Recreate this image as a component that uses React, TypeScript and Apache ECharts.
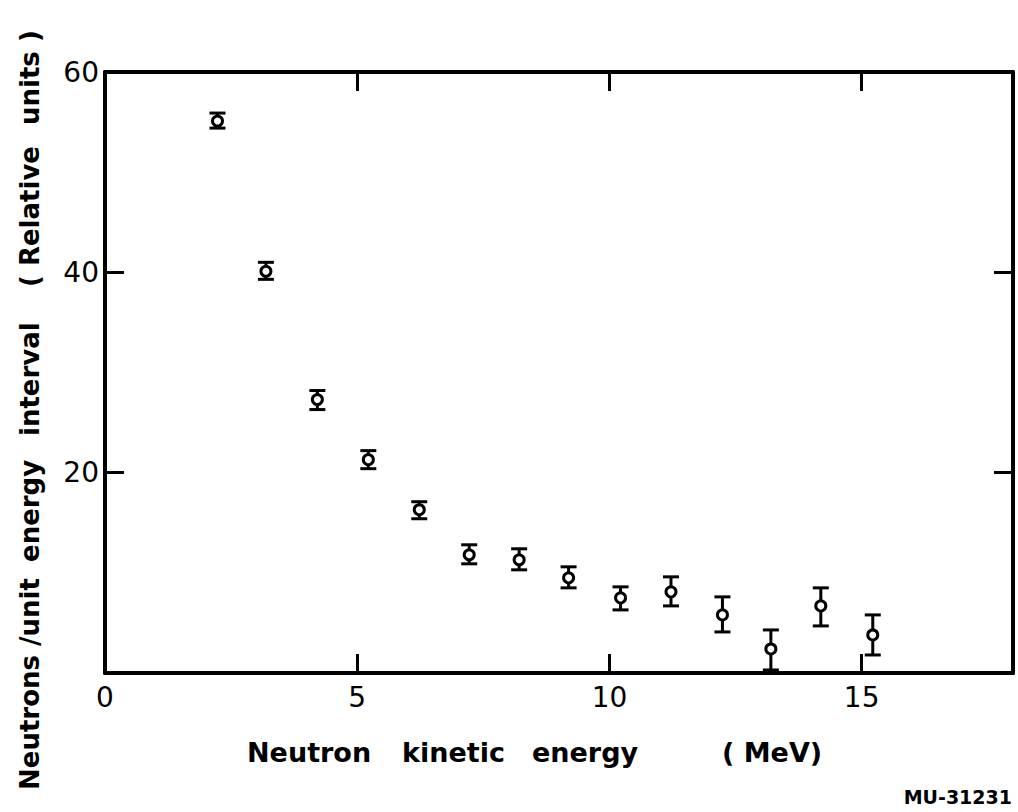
import React, { useEffect, useRef } from "react";
import * as echarts from "echarts";

// Neutron kinetic energy (MeV)
const energy = [2.23, 3.19, 4.21, 5.22, 6.23, 7.22, 8.21, 9.19, 10.22, 11.22, 12.24, 13.2, 14.19, 15.22];
// Neutrons / unit energy interval (relative units)
const intensity = [55.1, 40.1, 27.3, 21.3, 16.3, 11.8, 11.3, 9.5, 7.5, 8.1, 5.8, 2.4, 6.7, 3.8];
const errLow = [54.4, 39.3, 26.3, 20.4, 15.4, 10.9, 10.3, 8.5, 6.3, 6.7, 4.1, 0.3, 4.7, 1.8];
const errHigh = [55.9, 41.0, 28.2, 22.2, 17.1, 12.8, 12.4, 10.6, 8.6, 9.6, 7.6, 4.3, 8.5, 5.8];

const xTitleWords = ["Neutron", "kinetic", "energy", "( MeV)"];
const yTitleWords = ["Neutrons /unit", "energy", "interval", "( Relative", "units )"];
const figureCode = "MU-31231";

const FONT = "DejaVu Sans";

export default function App() {
  const ref = useRef<HTMLDivElement>(null);

  useEffect(() => {
    document.body.style.margin = "0";
    if (!ref.current) return;
    const chart = echarts.init(ref.current, undefined, { renderer: "svg" });

    const axisLine = { show: true, onZero: false, lineStyle: { color: "#000", width: 4 } };
    const axisTick = { show: true, inside: true, length: 19, lineStyle: { color: "#000", width: 3 } };
    const labelStyle = { color: "#000", fontSize: 28, fontFamily: FONT };

    const xTitleX = [247, 402, 532, 722];
    const yTitleY = [790, 562, 436, 287, 125];

    const graphics: any[] = [];
    xTitleWords.forEach((w, i) => {
      graphics.push({
        type: "text",
        x: xTitleX[i],
        y: 752,
        style: { text: w, fill: "#000", font: `bold 27px "${FONT}"`, align: "left", verticalAlign: "middle" },
      });
    });
    yTitleWords.forEach((w, i) => {
      graphics.push({
        type: "text",
        x: 30,
        y: yTitleY[i],
        rotation: Math.PI / 2,
        style: { text: w, fill: "#000", font: `bold 26px "${FONT}"`, align: "left", verticalAlign: "middle" },
      });
    });
    graphics.push({
      type: "text",
      x: 1012,
      y: 797,
      style: { text: figureCode, fill: "#000", font: `bold 19px "${FONT}"`, align: "right", verticalAlign: "middle" },
    });

    chart.setOption({
      animation: false,
      backgroundColor: "#fff",
      grid: { left: 105, top: 72, right: 5, bottom: 139, containLabel: false },
      xAxis: [
        {
          type: "value",
          position: "bottom",
          min: 0,
          max: 18,
          interval: 5,
          axisLine,
          axisTick,
          splitLine: { show: false },
          axisLabel: { ...labelStyle, margin: 10, showMaxLabel: false },
        },
        {
          type: "value",
          position: "top",
          min: 0,
          max: 18,
          interval: 5,
          axisLine,
          axisTick,
          splitLine: { show: false },
          axisLabel: { show: false },
        },
      ],
      yAxis: [
        {
          type: "value",
          position: "left",
          min: 0,
          max: 60,
          interval: 20,
          axisLine,
          axisTick,
          splitLine: { show: false },
          axisLabel: { ...labelStyle, margin: 6, showMinLabel: false },
        },
        {
          type: "value",
          position: "right",
          min: 0,
          max: 60,
          interval: 20,
          axisLine,
          axisTick,
          splitLine: { show: false },
          axisLabel: { show: false },
        },
      ],
      series: [
        {
          type: "custom",
          xAxisIndex: 0,
          yAxisIndex: 0,
          encode: { x: 0, y: [1, 2] },
          data: energy.map((e, i) => [e, errLow[i], errHigh[i]]),
          z: 2,
          renderItem: (params: any, api: any) => {
            const x = api.value(0);
            const pLo = api.coord([x, api.value(1)]);
            const pHi = api.coord([x, api.value(2)]);
            const hw = 8;
            const st = { stroke: "#000", lineWidth: 3 };
            return {
              type: "group",
              children: [
                { type: "line", shape: { x1: pLo[0], y1: pLo[1], x2: pHi[0], y2: pHi[1] }, style: st },
                { type: "line", shape: { x1: pLo[0] - hw, y1: pLo[1], x2: pLo[0] + hw, y2: pLo[1] }, style: st },
                { type: "line", shape: { x1: pHi[0] - hw, y1: pHi[1], x2: pHi[0] + hw, y2: pHi[1] }, style: st },
              ],
            };
          },
        },
        {
          type: "scatter",
          xAxisIndex: 0,
          yAxisIndex: 0,
          data: energy.map((e, i) => [e, intensity[i]]),
          symbol: "circle",
          symbolSize: 10,
          z: 3,
          itemStyle: { color: "#fff", borderColor: "#000", borderWidth: 3, opacity: 1 },
        },
      ],
      graphic: graphics,
    });

    return () => chart.dispose();
  }, []);

  return <div ref={ref} style={{ width: 1018, height: 812 }} />;
}
